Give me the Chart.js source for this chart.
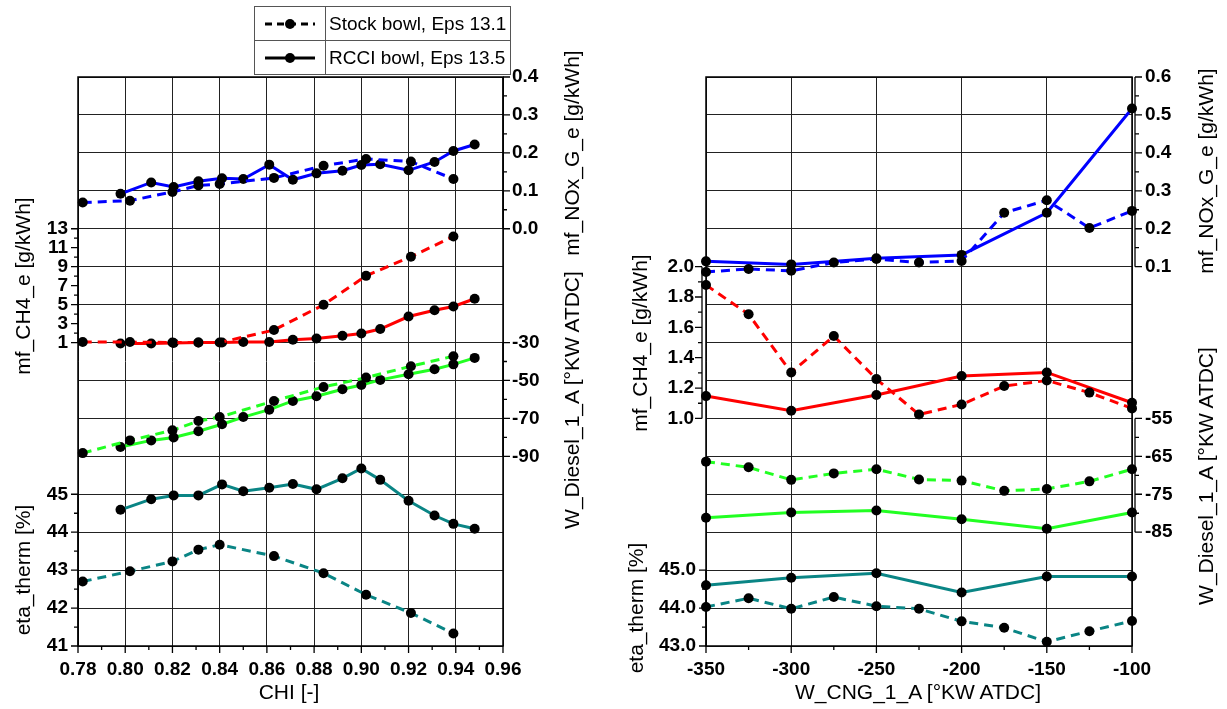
<!DOCTYPE html>
<html lang="en">
<head>
<meta charset="UTF-8">
<title>Stock vs RCCI bowl</title>
<script src="https://cdn.jsdelivr.net/npm/chart.js"></script>
<style>
    body { margin: 0; background: #fff; font-family: "Liberation Sans", Arial, sans-serif; }
    .page { position: relative; width: 1227px; height: 709px; overflow: hidden; }
    canvas { position: absolute; left: 0; top: 0; }
    .ttl { position: absolute; font-size: 21px; color: #000; white-space: nowrap; transform: translate(-50%, -50%); }
    .rot { transform: translate(-50%, -50%) rotate(-90deg); }
    #legend { position: absolute; left: 254px; top: 6px; border-collapse: collapse; font-size: 19px; }
    #legend td { border: 1px solid #555; height: 33px; padding: 0 4px 0 3px; }
    #legend td.smp { width: 70px; padding: 0; text-align: center; }
</style>
</head>
<body>
<div class="page">
    <canvas id="chiChart" width="1227" height="709"></canvas>
    <canvas id="cngChart" width="1227" height="709"></canvas>

    <table id="legend">
        <tr><td class="smp"><svg width="54" height="12"><line x1="2" y1="6" x2="52" y2="6" stroke="#000" stroke-width="3" stroke-dasharray="7,5"/><circle cx="27" cy="6" r="5"/></svg></td><td>Stock bowl, Eps 13.1</td></tr>
        <tr><td class="smp"><svg width="54" height="12"><line x1="2" y1="6" x2="52" y2="6" stroke="#000" stroke-width="3"/><circle cx="27" cy="6" r="5"/></svg></td><td>RCCI bowl, Eps 13.5</td></tr>
    </table>

    <div class="ttl rot" style="left:23px; top:286px;">mf_CH4_e [g/kWh]</div>
    <div class="ttl rot" style="left:23px; top:570px;">eta_therm [%]</div>
    <div class="ttl rot" style="left:572px; top:153px;">mf_NOx_G_e [g/kWh]</div>
    <div class="ttl rot" style="left:572px; top:400px;">W_Diesel_1_A [°KW ATDC]</div>
    <div class="ttl" style="left:289px; top:692px;">CHI [-]</div>

    <div class="ttl rot" style="left:640px; top:343px;">mf_CH4_e [g/kWh]</div>
    <div class="ttl rot" style="left:636px; top:608px;">eta_therm [%]</div>
    <div class="ttl rot" style="left:1206px; top:171px;">mf_NOx_G_e [g/kWh]</div>
    <div class="ttl rot" style="left:1206px; top:476px;">W_Diesel_1_A [°KW ATDC]</div>
    <div class="ttl" style="left:918px; top:692px;">W_CNG_1_A [°KW ATDC]</div>
</div>

<script>
    // ---- left panel: sweep over CHI ----
    const chiStock = [0.782, 0.802, 0.820, 0.831, 0.840, 0.863, 0.884, 0.902, 0.921, 0.939];
    const chiRcci = [0.798, 0.811, 0.8205, 0.831, 0.841, 0.850, 0.861, 0.871, 0.881, 0.892, 0.900, 0.908, 0.920, 0.931, 0.939, 0.948];

    const noxStockChi = [0.069, 0.074, 0.097, 0.114, 0.118, 0.134, 0.166, 0.184, 0.177, 0.131];
    const noxRcciChi = [0.092, 0.122, 0.110, 0.125, 0.133, 0.131, 0.169, 0.129, 0.146, 0.153, 0.168, 0.170, 0.154, 0.176, 0.205, 0.222];
    const ch4StockChi = [1.05, 1.05, 1.0, 1.0, 1.0, 2.32, 4.98, 8.03, 10.05, 12.18];
    const ch4RcciChi = [0.9, 0.9, 0.95, 1.0, 1.0, 1.05, 1.05, 1.29, 1.43, 1.71, 1.96, 2.42, 3.74, 4.41, 4.80, 5.62];
    const dieselStockChi = [-88.3, -81.6, -76.3, -71.4, -69.3, -60.8, -53.4, -48.5, -42.5, -37.2];
    const dieselRcciChi = [-85.1, -81.6, -80.1, -76.8, -73.1, -69.3, -65.4, -60.8, -58.3, -54.6, -52.4, -49.7, -46.7, -44.1, -41.5, -38.1];
    const etaStockChi = [42.70, 42.97, 43.23, 43.54, 43.67, 43.37, 42.92, 42.35, 41.87, 41.33];
    const etaRcciChi = [44.59, 44.87, 44.97, 44.97, 45.26, 45.08, 45.17, 45.27, 45.13, 45.42, 45.68, 45.38, 44.83, 44.44, 44.22, 44.09];

    // ---- right panel: sweep over CNG injection timing ----
    const cngStock = [-350, -325, -300, -275, -250, -225, -200, -175, -150, -125, -100];
    const cngRcci = [-350, -300, -250, -200, -150, -100];

    const noxStockCng = [0.086, 0.094, 0.089, 0.111, 0.120, 0.111, 0.115, 0.242, 0.275, 0.202, 0.247];
    const noxRcciCng = [0.114, 0.106, 0.122, 0.131, 0.242, 0.517];
    const ch4StockCng = [1.879, 1.686, 1.303, 1.543, 1.259, 1.026, 1.092, 1.213, 1.250, 1.170, 1.066];
    const ch4RcciCng = [1.147, 1.050, 1.154, 1.280, 1.303, 1.103];
    const dieselStockCng = [-66.4, -67.9, -71.2, -69.5, -68.4, -71.1, -71.4, -74.1, -73.6, -71.6, -68.4];
    const dieselRcciCng = [-81.2, -79.8, -79.3, -81.6, -84.1, -79.8];
    const etaStockCng = [44.03, 44.26, 43.98, 44.29, 44.05, 43.98, 43.65, 43.48, 43.11, 43.39, 43.66];
    const etaRcciCng = [44.60, 44.80, 44.92, 44.41, 44.83, 44.83];

    const BLUE = '#0000ff', RED = '#ff0000', GREEN = '#22ff22', TEAL = '#0a8585';

    Chart.defaults.font.family = '"Liberation Sans", Arial, sans-serif';
    Chart.defaults.color = '#000';

    function series(xs, ys, color, dashed, axis) {
        return {
            data: xs.map((x, i) => ({ x: x, y: ys[i] })),
            yAxisID: axis,
            borderColor: color,
            borderWidth: 3,
            borderDash: dashed ? [9, 6] : [],
            pointRadius: 5,
            pointBackgroundColor: '#000',
            pointBorderWidth: 0,
            tension: 0,
            clip: false
        };
    }

    // only label values inside the axis band, at the major step
    function bandLabel(lo, hi, major, dec) {
        return v => {
            if (v < lo - 1e-9 || v > hi + 1e-9) return '';
            const k = (v - lo) / major;
            if (Math.abs(k - Math.round(k)) > 1e-6) return '';
            return (Math.abs(v) < 1e-9 ? 0 : v).toFixed(dec);
        };
    }

    const tickFont = { size: 19, weight: 'bold' };
    const zeroWidth = s => { s.width = 0; };

    function yAxis(side, min, max, step, lo, hi, major, dec, pad) {
        return {
            type: 'linear', position: side, min: min, max: max,
            afterFit: zeroWidth,
            grid: { display: false, drawTicks: false },
            border: { display: false },
            ticks: { stepSize: step, autoSkip: false, padding: pad, font: tickFont,
                     callback: bandLabel(lo, hi, major, dec) }
        };
    }

    // frame, spines and tick marks (major + minor) from the scales
    const axisMarks = {
        id: 'axisMarks',
        afterLayout(chart) {
            // axes were fitted with zero size so the plot area is exact;
            // open their boxes again so the tick labels are not clipped away
            const a = chart.chartArea;
            Object.values(chart.scales).forEach(sc => {
                if (sc.axis === 'x') {
                    sc.top = a.bottom; sc.bottom = chart.height; sc.height = sc.bottom - sc.top;
                } else if (sc.options.position === 'left') {
                    sc.left = 0; sc.right = a.left; sc.width = a.left;
                } else {
                    sc.left = a.right; sc.right = chart.width; sc.width = chart.width - a.right;
                }
            });
        },
        afterDraw(chart, args, opts) {
            const ctx = chart.ctx, a = chart.chartArea;
            ctx.save();
            ctx.strokeStyle = '#000';
            ctx.lineWidth = 1.5;
            ctx.strokeRect(a.left, a.top, a.right - a.left, a.bottom - a.top);
            ctx.lineWidth = 1.3;
            ctx.beginPath();
            opts.axes.forEach(s => {
                const sc = chart.scales[s.id];
                const dir = s.side === 'left' ? -1 : 1;
                const x0 = (s.side === 'left' ? a.left : a.right) + dir * s.off;
                ctx.moveTo(x0, sc.getPixelForValue(s.lo));
                ctx.lineTo(x0, sc.getPixelForValue(s.hi));
                const n = Math.round((s.hi - s.lo) / s.minor);
                for (let i = 0; i <= n; i++) {
                    const k = i * s.minor / s.major;
                    const len = Math.abs(k - Math.round(k)) < 1e-6 ? 7 : 4;
                    const y = sc.getPixelForValue(s.lo + i * s.minor);
                    ctx.moveTo(x0, y);
                    ctx.lineTo(x0 + dir * len, y);
                }
            });
            const xs = chart.scales.x, xo = opts.x;
            const n = Math.round((xo.hi - xo.lo) / xo.minor);
            for (let i = 0; i <= n; i++) {
                const k = i * xo.minor / xo.major;
                const len = Math.abs(k - Math.round(k)) < 1e-6 ? 7 : 4;
                const x = xs.getPixelForValue(xo.lo + i * xo.minor);
                ctx.moveTo(x, a.bottom);
                ctx.lineTo(x, a.bottom + len);
            }
            ctx.stroke();
            ctx.restore();
        }
    };

    function gridAxis() {
        return {
            type: 'linear', position: 'left', min: 0, max: 15, afterFit: zeroWidth,
            border: { display: false },
            grid: { color: '#222', lineWidth: 1, drawTicks: false },
            ticks: { display: false, stepSize: 1 }
        };
    }

    // left chart
    new Chart(document.getElementById('chiChart'), {
        type: 'line',
        data: {
            datasets: [
                series(chiStock, noxStockChi, BLUE, true, 'yNox'),
                series(chiRcci, noxRcciChi, BLUE, false, 'yNox'),
                series(chiStock, ch4StockChi, RED, true, 'yCh4'),
                series(chiRcci, ch4RcciChi, RED, false, 'yCh4'),
                series(chiStock, dieselStockChi, GREEN, true, 'yDie'),
                series(chiRcci, dieselRcciChi, GREEN, false, 'yDie'),
                series(chiStock, etaStockChi, TEAL, true, 'yEta'),
                series(chiRcci, etaRcciChi, TEAL, false, 'yEta')
            ]
        },
        options: {
            responsive: false,
            animation: false,
            layout: { padding: { left: 78, right: 724, top: 77, bottom: 63 } },
            scales: {
                x: {
                    type: 'linear', min: 0.78, max: 0.96,
                    afterFit: s => { s.height = 0; },
                    border: { display: false },
                    grid: { color: '#222', drawTicks: false },
                    ticks: { stepSize: 0.02, autoSkip: false, maxRotation: 0, padding: 12, font: tickFont,
                             callback: v => v.toFixed(2) }
                },
                yg: gridAxis(),
                yNox: yAxis('right', -1.1, 0.4, 0.05, 0, 0.4, 0.1, 1, 9),
                yCh4: yAxis('left', -31, 29, 1, 1, 13, 2, 0, 10),
                yDie: yAxis('right', -190, 110, 10, -90, -30, 20, 0, 9),
                yEta: yAxis('left', 41, 56, 0.5, 41, 45, 1, 0, 10)
            },
            plugins: {
                legend: { display: false },
                tooltip: { enabled: false },
                axisMarks: {
                    axes: [
                        { id: 'yNox', side: 'right', off: 0, lo: 0, hi: 0.4, major: 0.1, minor: 0.05 },
                        { id: 'yCh4', side: 'left', off: 0, lo: 1, hi: 13, major: 2, minor: 1 },
                        { id: 'yDie', side: 'right', off: 0, lo: -90, hi: -30, major: 20, minor: 10 },
                        { id: 'yEta', side: 'left', off: 0, lo: 41, hi: 45, major: 1, minor: 0.5 }
                    ],
                    x: { lo: 0.78, hi: 0.96, major: 0.02, minor: 0.01 }
                }
            }
        },
        plugins: [axisMarks]
    });

    // right chart
    new Chart(document.getElementById('cngChart'), {
        type: 'line',
        data: {
            datasets: [
                series(cngStock, noxStockCng, BLUE, true, 'yNox'),
                series(cngRcci, noxRcciCng, BLUE, false, 'yNox'),
                series(cngStock, ch4StockCng, RED, true, 'yCh4'),
                series(cngRcci, ch4RcciCng, RED, false, 'yCh4'),
                series(cngStock, dieselStockCng, GREEN, true, 'yDie'),
                series(cngRcci, dieselRcciCng, GREEN, false, 'yDie'),
                series(cngStock, etaStockCng, TEAL, true, 'yEta'),
                series(cngRcci, etaRcciCng, TEAL, false, 'yEta')
            ]
        },
        options: {
            responsive: false,
            animation: false,
            layout: { padding: { left: 706, right: 95, top: 77, bottom: 63 } },
            scales: {
                x: {
                    type: 'linear', min: -350, max: -100,
                    afterFit: s => { s.height = 0; },
                    border: { display: false },
                    grid: { color: '#222', drawTicks: false },
                    ticks: { stepSize: 50, autoSkip: false, maxRotation: 0, padding: 12, font: tickFont }
                },
                yg: gridAxis(),
                yNox: yAxis('right', -0.9, 0.6, 0.05, 0.1, 0.6, 0.1, 1, 13),
                yCh4: yAxis('left', -0.5, 3.25, 0.1, 1.0, 2.0, 0.2, 1, 12),
                yDie: yAxis('right', -115, 35, 5, -85, -55, 10, 0, 13),
                yEta: yAxis('left', 43, 58, 0.5, 43, 45, 1, 1, 10)
            },
            plugins: {
                legend: { display: false },
                tooltip: { enabled: false },
                axisMarks: {
                    axes: [
                        { id: 'yNox', side: 'right', off: 3, lo: 0.1, hi: 0.6, major: 0.1, minor: 0.05 },
                        { id: 'yCh4', side: 'left', off: 4, lo: 1.0, hi: 2.0, major: 0.2, minor: 0.1 },
                        { id: 'yDie', side: 'right', off: 3, lo: -85, hi: -55, major: 10, minor: 5 },
                        { id: 'yEta', side: 'left', off: 0, lo: 43, hi: 45, major: 1, minor: 0.5 }
                    ],
                    x: { lo: -350, hi: -100, major: 50, minor: 25 }
                }
            }
        },
        plugins: [axisMarks]
    });
</script>
</body>
</html>
